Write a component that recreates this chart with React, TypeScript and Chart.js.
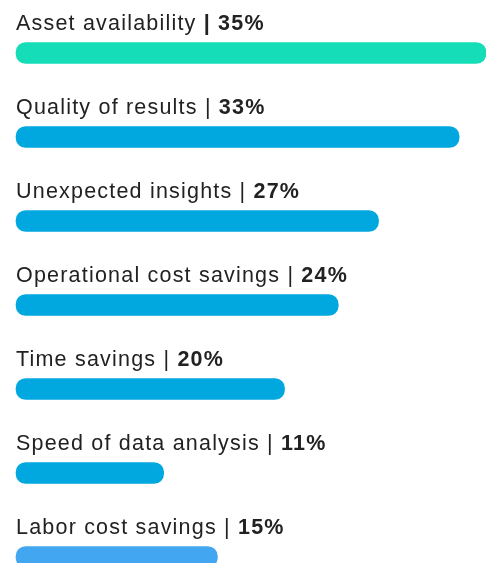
import React, { useEffect, useRef } from "react";
import { Chart, registerables } from "chart.js";

Chart.register(...registerables);

const categories = [
  "Asset availability",
  "Quality of results",
  "Unexpected insights",
  "Operational cost savings",
  "Time savings",
  "Speed of data analysis",
  "Labor cost savings",
];
const values = [35, 33, 27, 24, 20, 11, 15];
const barColors = ["#14ddb8", "#00a8df", "#00a8df", "#00a8df", "#00a8df", "#00a8df", "#42a6f0"];
const boldSeparator = [true, false, false, false, false, false, false];

const FONT = "Arial, 'Liberation Sans', Helvetica, sans-serif";
const SIZE = 21.5;
const SPACING = "1.2px";

const labelPlugin = {
  id: "topLabels",
  afterDatasetsDraw(chart: any) {
    const ctx = chart.ctx;
    const meta = chart.getDatasetMeta(0);
    const left = chart.chartArea.left;
    ctx.save();
    ctx.textBaseline = "alphabetic";
    ctx.textAlign = "left";
    ctx.fillStyle = "#222222";
    try {
      ctx.letterSpacing = SPACING;
    } catch (e) {}
    meta.data.forEach((bar: any, i: number) => {
      const y = bar.y - 23;
      let x = left;
      const name = categories[i];
      const pct = values[i] + "%";
      ctx.font = `${SIZE}px ${FONT}`;
      if (boldSeparator[i]) {
        ctx.fillText(name + " ", x, y);
        x += ctx.measureText(name + " ").width;
        ctx.font = `bold ${SIZE}px ${FONT}`;
        ctx.fillText("| " + pct, x, y);
      } else {
        ctx.fillText(name + " | ", x, y);
        x += ctx.measureText(name + " | ").width;
        ctx.font = `bold ${SIZE}px ${FONT}`;
        ctx.fillText(pct, x, y);
      }
    });
    ctx.restore();
  },
};

export default function App() {
  const ref = useRef<HTMLCanvasElement | null>(null);
  useEffect(() => {
    if (!ref.current) return;
    const chart = new Chart(ref.current, {
      type: "bar",
      data: {
        labels: categories,
        datasets: [
          {
            data: values,
            backgroundColor: barColors,
            borderRadius: 10,
            borderSkipped: false,
            barThickness: 21,
            clip: false as any,
          },
        ],
      },
      options: {
        indexAxis: "y",
        animation: false,
        responsive: false,
        maintainAspectRatio: false,
        layout: { padding: { left: 16, right: 0, top: 53, bottom: 6 } },
        plugins: { legend: { display: false }, tooltip: { enabled: false } },
        scales: {
          x: { display: false, min: 0, max: 35 },
          y: { display: false, offset: false },
        },
      },
      plugins: [labelPlugin],
    });
    return () => chart.destroy();
  }, []);
  return (
    <div style={{ position: "fixed", left: 0, top: 0, width: 486, height: 563, background: "#fff" }}>
      <canvas ref={ref} width={486} height={563} style={{ display: "block", width: 486, height: 563 }} />
    </div>
  );
}
